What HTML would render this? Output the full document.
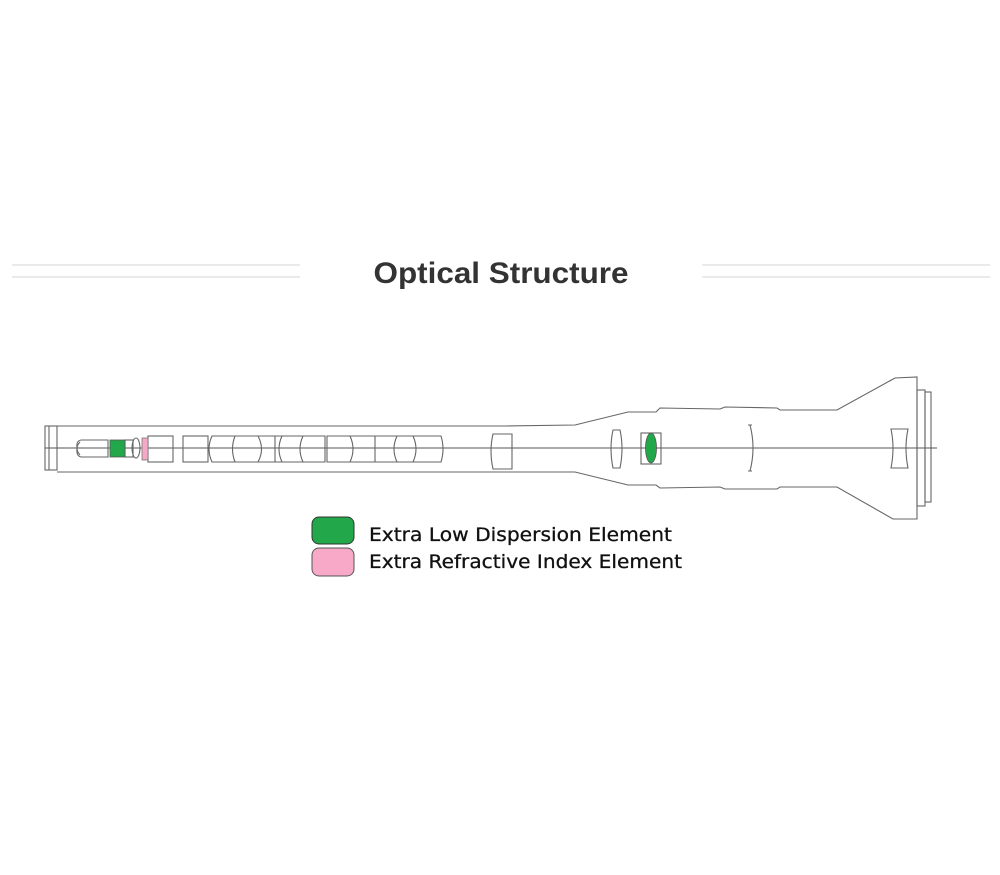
<!DOCTYPE html>
<html><head><meta charset="utf-8"><style>
html,body{margin:0;padding:0;background:#fff;}
svg{display:block}
</style></head><body>
<svg width="1000" height="875" viewBox="0 0 1000 875" xmlns="http://www.w3.org/2000/svg">
<g stroke="#ddd" stroke-width="1.2">
<line x1="12" y1="265" x2="300" y2="265"/><line x1="12" y1="277" x2="300" y2="277"/>
<line x1="702" y1="265" x2="990" y2="265"/><line x1="702" y1="277" x2="990" y2="277"/>
</g>
<text x="501" y="283" text-anchor="middle" font-family="Liberation Sans, sans-serif" font-size="30" font-weight="bold" fill="#333" textLength="255" lengthAdjust="spacingAndGlyphs">Optical Structure</text>
<g fill="none" stroke="#666" stroke-width="1.1">
<rect x="45" y="426" width="12" height="44"/>
<line x1="49" y1="426" x2="49" y2="470"/>
<path d="M57 426 H507 L575 425 L628 412 L656 412 L660 408 L720 409 L725 407 L777 408 L780 410 L837 410 L895 378 L917 377 L917 519 L893 519 L837 487 L780 487 L777 489 L725 489 L720 487 L660 488 L656 485 L628 485 L575 472 L507 472 H57"/>
<rect x="917" y="390" width="8" height="116"/>
<rect x="925" y="392" width="6" height="110"/>
<line x1="45" y1="448" x2="937" y2="448" stroke="#555"/>
<path d="M82 440 H108 V457 H82 Q76 457 77 448 Q76 440 82 440Z"/>
<path d="M80 442 Q74 448 80 455"/>
<rect x="125" y="440" width="8" height="17"/>
<ellipse cx="136" cy="448" rx="4" ry="10"/>
<rect x="148" y="436" width="25" height="26"/>
<rect x="183" y="436" width="25" height="26"/>
<path d="M212 436 H275 V462 H212 Q206 449 212 436Z"/>
<path d="M235 436 Q230 449 235 462 M258 436 Q265 449 258 462"/>
<path d="M275 436 H325 V462 H275"/>
<path d="M282 436 Q276 449 282 462 M303 436 Q297 449 303 462"/>
<path d="M327 436 H375 V462 H327 Z"/>
<path d="M350 436 Q356 449 350 462"/>
<path d="M375 436 H441 Q445 449 441 462 H375"/>
<path d="M397 436 Q391 449 397 462 M413 436 Q419 449 413 462"/>
<path d="M493 434 H512 V469 H493 Q489 451 493 434Z"/>
<path d="M613 430 H620 Q624 448 620 468 H613 Q609 448 613 430Z"/>
<rect x="641" y="433" width="20" height="31"/>
<path d="M750 425 Q756 448 750 471 M748 425 H752 M748 471 H752"/>
<path d="M891 429 H908 Q904 448 908 468 H891 Q895 448 891 429Z"/>
</g>
<rect x="110" y="440" width="15" height="17" fill="#22a84a" stroke="#555" stroke-width="0.8"/>
<rect x="142" y="438" width="6" height="22" fill="#f6a9c6" stroke="#777" stroke-width="0.8"/>
<ellipse cx="651" cy="448" rx="5.5" ry="15" fill="#22a84a" stroke="#555" stroke-width="0.8"/>
<rect x="312" y="517" width="42" height="27" rx="7" fill="#22a84a" stroke="#333" stroke-width="1"/>
<rect x="312" y="548" width="42" height="28" rx="7" fill="#f8a9c7" stroke="#555" stroke-width="1"/>
<g font-family="DejaVu Sans, sans-serif" font-size="19" fill="#111" stroke="#111" stroke-width="0.3">
<text x="369" y="541" textLength="303" lengthAdjust="spacingAndGlyphs">Extra Low Dispersion Element</text>
<text x="369" y="568" textLength="313" lengthAdjust="spacingAndGlyphs">Extra Refractive Index Element</text>
</g>
</svg>
</body></html>
